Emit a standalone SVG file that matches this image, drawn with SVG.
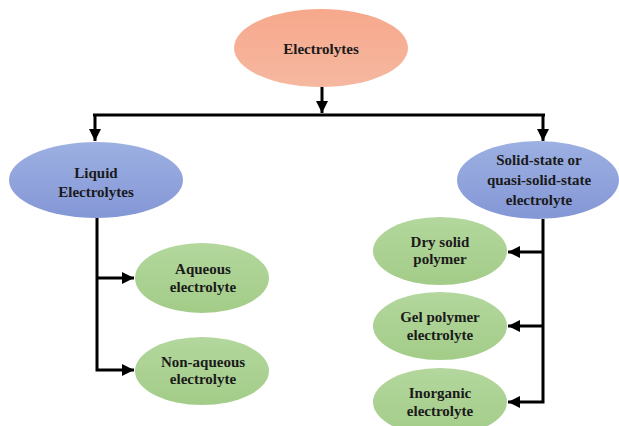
<svg xmlns="http://www.w3.org/2000/svg" width="619" height="426" viewBox="0 0 619 426">
<defs>
<linearGradient id="gO" x1="0" y1="0" x2="0" y2="1"><stop offset="0" stop-color="#f7a88c"/><stop offset="1" stop-color="#f5b8a0"/></linearGradient>
<linearGradient id="gB" x1="0" y1="0" x2="0" y2="1"><stop offset="0" stop-color="#9db0e2"/><stop offset="1" stop-color="#8497d6"/></linearGradient>
<linearGradient id="gG" x1="0" y1="0" x2="0" y2="1"><stop offset="0" stop-color="#b3d79d"/><stop offset="1" stop-color="#a3cc88"/></linearGradient>
<marker id="ah" viewBox="0 0 10 10" refX="10" refY="5" markerWidth="4" markerHeight="4" orient="auto" markerUnits="strokeWidth"><path d="M0,0 L10,5 L0,10 Z" fill="#000"/></marker>
<style>
text{font-family:"Liberation Serif","Times New Roman",serif;font-weight:bold;font-size:15px;fill:#1a1a1a;text-anchor:middle}
.c{fill:none;stroke:#000;stroke-width:3}
</style>
</defs>
<rect width="619" height="426" fill="#fff"/>
<g id="connectors">
<path class="c" d="M322,87 V113" marker-end="url(#ah)"/>
<path class="c" d="M93,115 H545"/>
<path class="c" d="M95,115 V141" marker-end="url(#ah)"/>
<path class="c" d="M543,115 V141" marker-end="url(#ah)"/>
<path class="c" d="M97,218 V370 H134" marker-end="url(#ah)"/>
<path class="c" d="M97,278 H134" marker-end="url(#ah)"/>
<path class="c" d="M543,219 V402 H508" marker-end="url(#ah)"/>
<path class="c" d="M543,252 H508" marker-end="url(#ah)"/>
<path class="c" d="M543,326 H508" marker-end="url(#ah)"/>
</g>
<g id="electrolytes"><ellipse cx="321" cy="48" rx="87" ry="39" fill="url(#gO)"/><text x="321" y="54">Electrolytes</text></g>
<g id="liquid"><ellipse cx="96" cy="180" rx="87" ry="38" fill="url(#gB)"/><text x="96" y="178">Liquid</text><text x="96" y="197">Electrolytes</text></g>
<g id="solid"><ellipse cx="538" cy="180" rx="81" ry="39" fill="url(#gB)"/><text x="539" y="165">Solid-state or</text><text x="539" y="185">quasi-solid-state</text><text x="539" y="205">electrolyte</text></g>
<g id="aqueous"><ellipse cx="202" cy="278" rx="67" ry="35" fill="url(#gG)"/><text x="203" y="274">Aqueous</text><text x="203" y="292">electrolyte</text></g>
<g id="nonaqueous"><ellipse cx="202" cy="371" rx="67" ry="34" fill="url(#gG)"/><text x="203" y="367">Non-aqueous</text><text x="203" y="384">electrolyte</text></g>
<g id="dry"><ellipse cx="440" cy="251" rx="67" ry="34" fill="url(#gG)"/><text x="440" y="247">Dry solid</text><text x="440" y="264">polymer</text></g>
<g id="gel"><ellipse cx="440" cy="326" rx="67" ry="34" fill="url(#gG)"/><text x="440" y="322">Gel polymer</text><text x="440" y="340">electrolyte</text></g>
<g id="inorganic"><ellipse cx="440" cy="402" rx="67" ry="34" fill="url(#gG)"/><text x="440" y="398">Inorganic</text><text x="440" y="416">electrolyte</text></g>
</svg>
